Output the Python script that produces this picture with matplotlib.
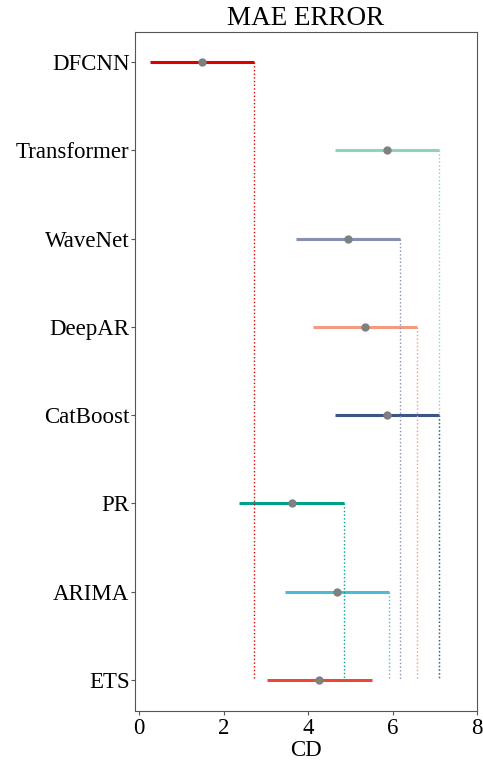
import matplotlib
matplotlib.use("Agg")
import matplotlib.pyplot as plt

models = ["DFCNN", "Transformer", "WaveNet", "DeepAR", "CatBoost", "PR", "ARIMA", "ETS"]
means = [1.49, 5.87, 4.94, 5.34, 5.87, 3.61, 4.68, 4.27]
half_cd = 1.235
colors = ["#DC0000", "#91D1C2", "#8491B4", "#F39B7F", "#3C5488", "#00A087", "#4DBBD5", "#E64B35"]
xticks = [0, 2, 4, 6, 8]

plt.rcParams['font.family'] = ['Liberation Serif', 'DejaVu Serif']

fig = plt.figure(figsize=(4.83, 7.62), dpi=100)
ax = fig.add_axes([0.2795, 0.067, 0.708, 0.891])

n = len(models)
last = n - 1
for i, (m, mu, c) in enumerate(zip(models, means, colors)):
    lo, hi = mu - half_cd, mu + half_cd
    ax.plot([lo, hi], [i, i], color=c, lw=2.2, solid_capstyle='butt', zorder=2)
    if i != last:
        ax.plot([hi, hi], [i, last], color=c, lw=1.0, ls=':', zorder=3)
    ax.plot([mu], [i], 'o', color='#808080', ms=5, zorder=4)

ax.set_yticks(range(n))
ax.set_yticklabels(models, fontsize=16.5)
ax.set_ylim(n - 1 + 0.35, -0.34)
ax.set_xlim(-0.1, 8)
ax.set_xticks(xticks)
ax.set_xticklabels([str(t) for t in xticks], fontsize=16.5)
ax.tick_params(axis='y', length=3, pad=1, color='#555555')
ax.tick_params(axis='x', length=3, pad=2, color='#555555')
ax.set_xlabel("CD", fontsize=16.5, labelpad=1)
ax.set_title("MAE ERROR", fontsize=19.5, pad=5)
for s in ax.spines.values():
    s.set_color('#555555')

fig.savefig("out.png", dpi=100)
